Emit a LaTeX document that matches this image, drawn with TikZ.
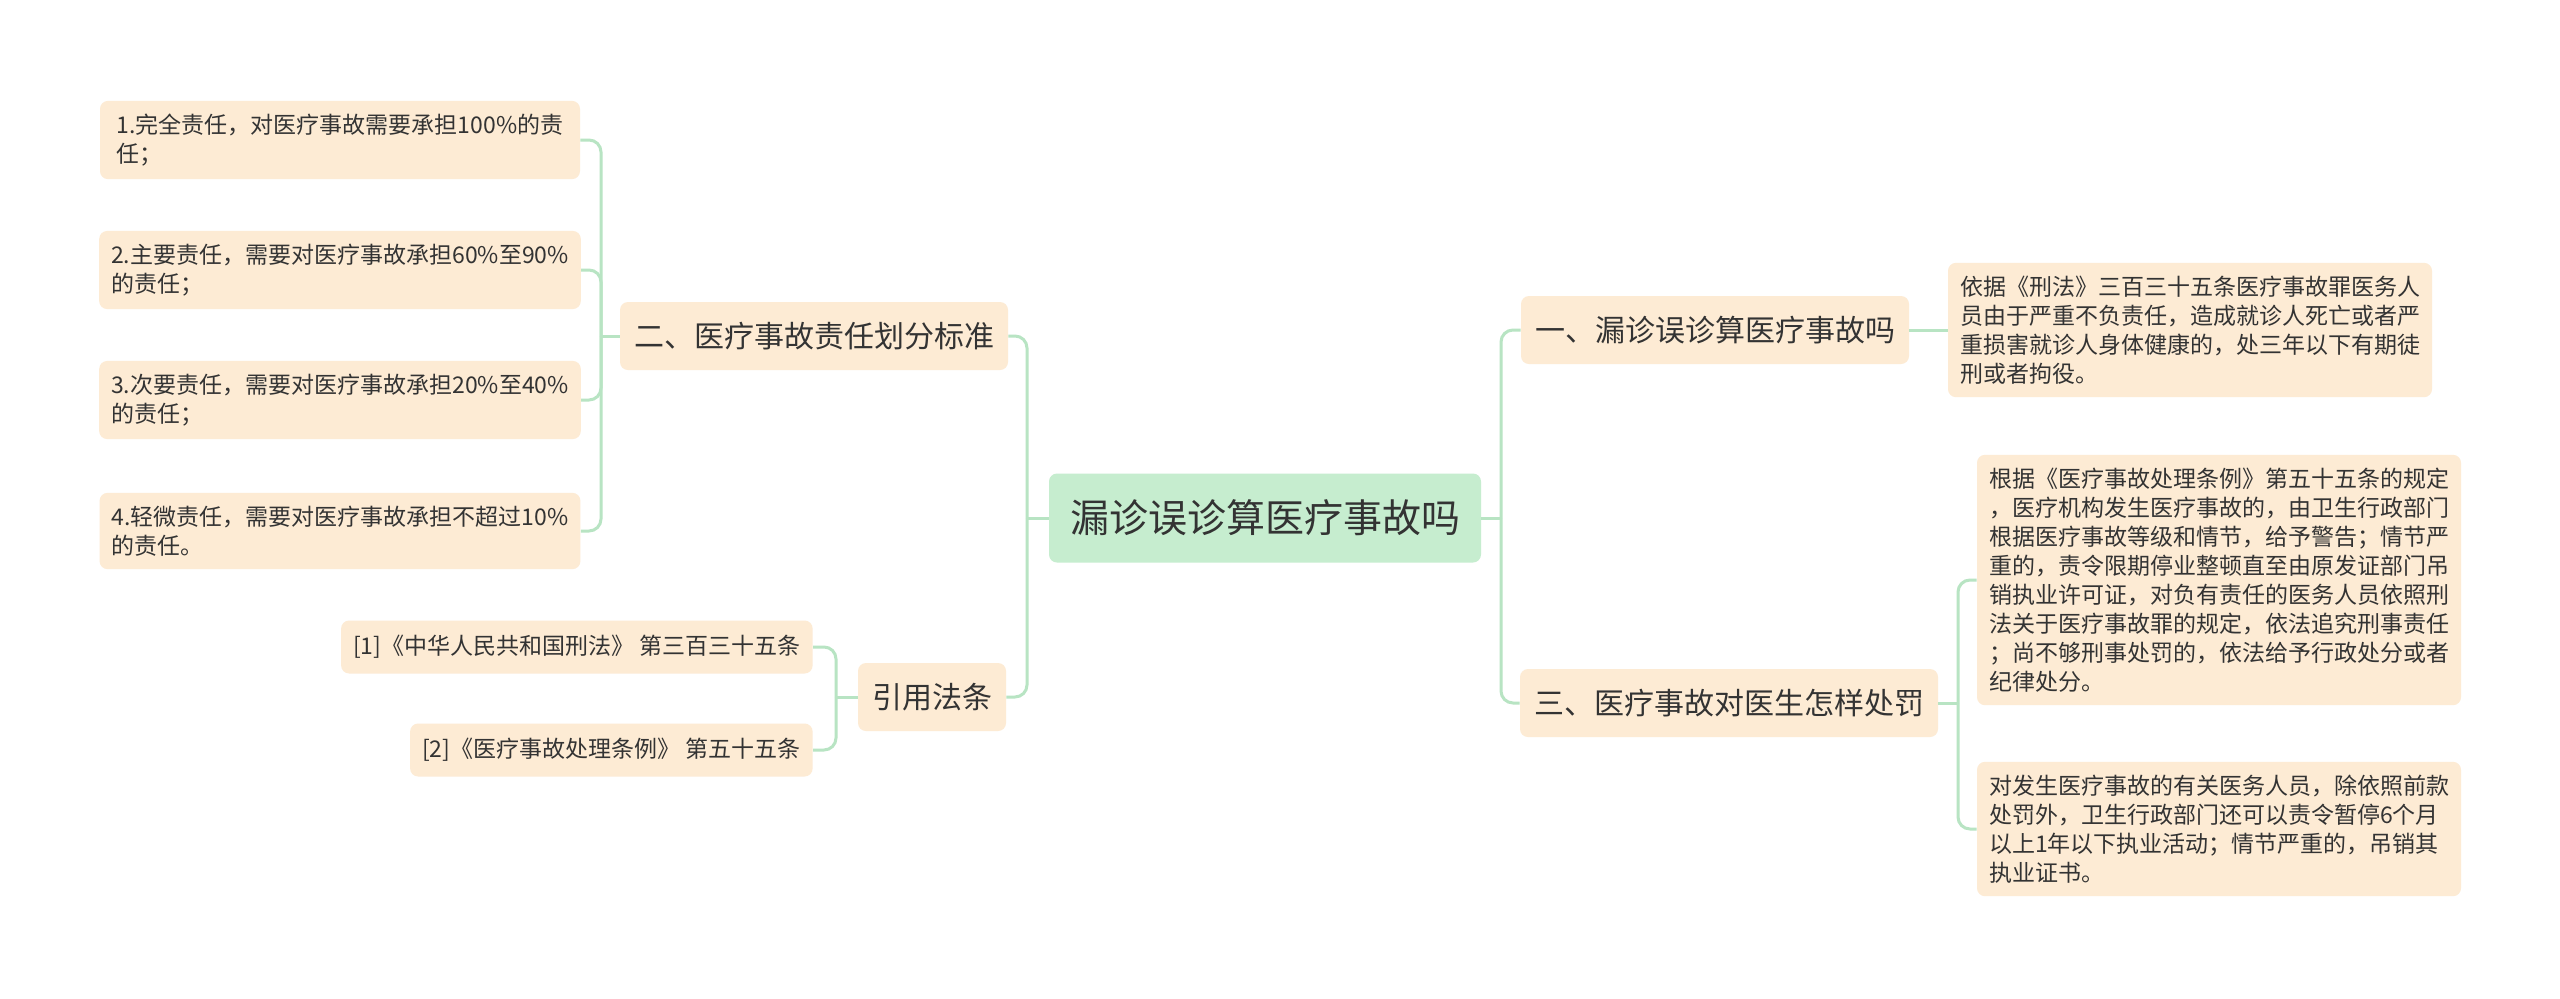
\documentclass[tikz,border=0pt]{standalone}
\usepackage{fontspec}
\setmainfont{Noto Sans CJK SC}
\definecolor{peach}{HTML}{FDEBD4}
\definecolor{mint}{HTML}{C6EDCF}
\definecolor{linegreen}{HTML}{B8E4C3}
\definecolor{ink}{HTML}{333333}
\begin{document}
\begin{tikzpicture}[x=0.5pt,y=-0.5pt,
		box/.style={fill=peach,rounded corners=4pt,text=ink,inner sep=0pt},
		leaf/.style={box,font=\fontsize{11.5}{14.5}\selectfont,align=left,minimum width=240pt,inner xsep=6pt,inner ysep=6.5pt},
		topic/.style={box,font=\fontsize{15}{18}\selectfont,inner xsep=7pt,minimum height=34pt},
		hub/.style={box,fill=mint,font=\fontsize{19.5}{23}\selectfont,inner xsep=10.5pt,minimum height=44.5pt},
		conn/.style={draw=linegreen,line width=1.5pt,rounded corners=6pt}]
		\fill[white] (0,0) rectangle (2560,998);
		\useasboundingbox (0,0) rectangle (2560,998);
		\node[hub] (root) at (1265,518) {漏诊误诊算医疗事故吗};
		\node[topic] (er) at (814,336) {二、医疗事故责任划分标准};
		\node[topic] (cite) at (932,697) {引用法条};
		\node[topic] (yi) at (1715,330) {一、漏诊误诊算医疗事故吗};
		\node[topic] (san) at (1729,703) {三、医疗事故对医生怎样处罚};
		\node[leaf] (d1) at (340,140) {1.完全责任，对医疗事故需要承担100\%的责\\任；};
		\node[leaf] (d2) at (340,270) {2.主要责任，需要对医疗事故承担60\%至90\%\\的责任；};
		\node[leaf] (d3) at (340,400) {3.次要责任，需要对医疗事故承担20\%至40\%\\的责任；};
		\node[leaf] (d4) at (340,531) {4.轻微责任，需要对医疗事故承担不超过10\%\\的责任。};
		\node[leaf,anchor=east,minimum width=0pt,minimum height=26.5pt] (c1) at (813,647) {[1]《中华人民共和国刑法》 第三百三十五条};
		\node[leaf,anchor=east,minimum width=0pt,minimum height=26.5pt] (c2) at (813,750) {[2]《医疗事故处理条例》 第五十五条};
		\node[leaf,minimum width=242pt] (yileaf) at (2190,330) {依据《刑法》三百三十五条医疗事故罪医务人\\员由于严重不负责任，造成就诊人死亡或者严\\重损害就诊人身体健康的，处三年以下有期徒\\刑或者拘役。};
		\node[leaf] (s1) at (2219,580) {根据《医疗事故处理条例》第五十五条的规定\\，医疗机构发生医疗事故的，由卫生行政部门\\根据医疗事故等级和情节，给予警告；情节严\\重的，责令限期停业整顿直至由原发证部门吊\\销执业许可证，对负有责任的医务人员依照刑\\法关于医疗事故罪的规定，依法追究刑事责任\\；尚不够刑事处罚的，依法给予行政处分或者\\纪律处分。};
		\node[leaf] (s2) at (2219,829) {对发生医疗事故的有关医务人员，除依照前款\\处罚外，卫生行政部门还可以责令暂停6个月\\以上1年以下执业活动；情节严重的，吊销其\\执业证书。};
		\coordinate (jl) at (1027,518);
		\coordinate (je) at (601,336);
		\coordinate (jc) at (836,697);
		\coordinate (jr) at (1501,518);
		\coordinate (js) at (1958,703);
		\draw[conn] (root.west) -- (jl);
		\draw[conn] (jl) |- (er.east);
		\draw[conn] (jl) |- (cite.east);
		\draw[conn] (er.west) -- (je);
		\foreach \n in {d1,d2,d3,d4}
		{
			\draw[conn] (je) |- (\n.east);
		}
		\draw[conn] (cite.west) -- (jc);
		\foreach \n in {c1,c2}
		{
			\draw[conn] (jc) |- (\n.east);
		}
		\draw[conn] (root.east) -- (jr);
		\draw[conn] (jr) |- (yi.west);
		\draw[conn] (jr) |- (san.west);
		\draw[conn] (yi.east) -- (yileaf.west);
		\draw[conn] (san.east) -- (js);
		\foreach \n in {s1,s2}
		{
			\draw[conn] (js) |- (\n.west);
		}
\end{tikzpicture}
\end{document}
